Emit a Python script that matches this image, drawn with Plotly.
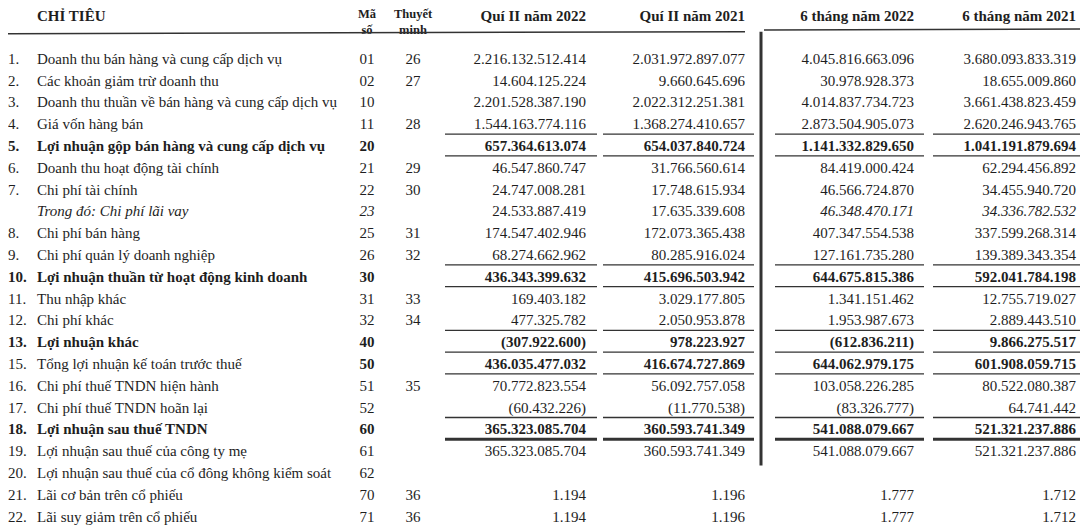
import plotly.graph_objects as go

# ---- du lieu bang ket qua kinh doanh ----
row_no = ["1.", "2.", "3.", "4.", "5.", "6.", "7.", "", "8.", "9.", "10.", "11.",
          "12.", "13.", "15.", "16.", "17.", "18.", "19.", "20.", "21.", "22."]
labels = [
    "Doanh thu bán hàng và cung cấp dịch vụ",
    "Các khoản giảm trừ doanh thu",
    "Doanh thu thuần về bán hàng và cung cấp dịch vụ",
    "Giá vốn hàng bán",
    "Lợi nhuận gộp bán hàng và cung cấp dịch vụ",
    "Doanh thu hoạt động tài chính",
    "Chi phí tài chính",
    "Trong đó: Chi phí lãi vay",
    "Chi phí bán hàng",
    "Chi phí quản lý doanh nghiệp",
    "Lợi nhuận thuần từ hoạt động kinh doanh",
    "Thu nhập khác",
    "Chi phí khác",
    "Lợi nhuận khác",
    "Tổng lợi nhuận kế toán trước thuế",
    "Chi phí thuế TNDN hiện hành",
    "Chi phí thuế TNDN hoãn lại",
    "Lợi nhuận sau thuế TNDN",
    "Lợi nhuận sau thuế của công ty mẹ",
    "Lợi nhuận sau thuế của cổ đông không kiểm soát",
    "Lãi cơ bản trên cổ phiếu",
    "Lãi suy giảm trên cổ phiếu",
]
ma_so = ["01", "02", "10", "11", "20", "21", "22", "23", "25", "26", "30", "31",
         "32", "40", "50", "51", "52", "60", "61", "62", "70", "71"]
thuyet_minh = ["26", "27", "", "28", "", "29", "30", "", "31", "32", "", "33",
               "34", "", "", "35", "", "", "", "", "36", "36"]

q2_2022 = [2216132512414, 14604125224, 2201528387190, 1544163774116, 657364613074,
           46547860747, 24747008281, 24533887419, 174547402946, 68274662962,
           436343399632, 169403182, 477325782, -307922600, 436035477032,
           70772823554, -60432226, 365323085704, 365323085704, None, 1194, 1194]
q2_2021 = [2031972897077, 9660645696, 2022312251381, 1368274410657, 654037840724,
           31766560614, 17748615934, 17635339608, 172073365438, 80285916024,
           415696503942, 3029177805, 2050953878, 978223927, 416674727869,
           56092757058, -11770538, 360593741349, 360593741349, None, 1196, 1196]
h1_2022 = [4045816663096, 30978928373, 4014837734723, 2873504905073, 1141332829650,
           84419000424, 46566724870, 46348470171, 407347554538, 127161735280,
           644675815386, 1341151462, 1953987673, -612836211, 644062979175,
           103058226285, -83326777, 541088079667, 541088079667, None, 1777, 1777]
h1_2021 = [3680093833319, 18655009860, 3661438823459, 2620246943765, 1041191879694,
           62294456892, 34455940720, 34336782532, 337599268314, 139389343354,
           592041784198, 12755719027, 2889443510, 9866275517, 601908059715,
           80522080387, 64741442, 521321237886, 521321237886, None, 1712, 1712]

col_heads = ["Quí II năm 2022", "Quí II năm 2021", "6 tháng năm 2022", "6 tháng năm 2021"]

# ---- kieu dang ----
bold_label = {"20", "30", "40", "60"}
bold_value = {"20", "30", "40", "50", "60"}
italic_code = {"23"}
line_under = {"11", "20", "26", "30", "32", "40", "50", "52"}
thick_under = {"60"}

FONT = "Liberation Serif"
INK = "#1e1e1e"
SIZE = 15
col_right = [586, 745, 914, 1076]
col_line = [(445, 597), (603, 754), (775, 924), (933, 1086)]


def fmt(v):
    if v is None:
        return ""
    s = f"{abs(v):,}".replace(",", ".")
    return f"({s})" if v < 0 else s


def wrap(s, b=False, i=False):
    if not s:
        return s
    if b:
        s = f"<b>{s}</b>"
    if i:
        s = f"<i>{s}</i>"
    return s


rows = list(range(len(labels)))

fig = go.Figure()


def add_text(x, y, txt, pos, size=SIZE):
    fig.add_trace(go.Scatter(x=x, y=y, text=txt, mode="text", textposition=pos,
                             textfont=dict(family=FONT, size=size, color=INK),
                             cliponaxis=False, hoverinfo="skip", showlegend=False))


add_text([8] * len(rows), rows,
         [wrap(n, b=c in bold_label) for n, c in zip(row_no, ma_so)], "middle right")
add_text([37] * len(rows), rows,
         [wrap(l, b=c in bold_label, i=c in italic_code) for l, c in zip(labels, ma_so)],
         "middle right")
add_text([367] * len(rows), rows,
         [wrap(c, b=c in bold_value, i=c in italic_code) for c in ma_so], "middle center")
add_text([413] * len(rows), rows, thuyet_minh, "middle center")

for k, series in enumerate([q2_2022, q2_2021, h1_2022, h1_2021]):
    txt = [wrap(fmt(v), b=c in bold_value, i=(c in italic_code and k >= 2))
           for v, c in zip(series, ma_so)]
    add_text([col_right[k]] * len(rows), rows, txt, "middle left")

# tieu de cot
add_text([37], [-1.97], ["<b>CHỈ TIÊU</b>"], "middle right")
add_text([367, 413], [-1.71, -1.71],
         ["<b>Mã<br>số</b>", "<b>Thuyết<br>minh</b>"], "middle center", 12.5)
add_text(col_right, [-1.97] * 4, [f"<b>{h}</b>" for h in col_heads], "middle left")

# duong ke
shapes = [
    dict(type="line", xref="x", yref="y", x0=0, x1=745, y0=-1.2, y1=-1.3,
         line=dict(color="#333", width=1.5)),
    dict(type="line", xref="x", yref="y", x0=764, x1=1088, y0=-1.38, y1=-1.42,
         line=dict(color="#333", width=1.5)),
    dict(type="line", xref="x", yref="y", x0=761, x1=761, y0=-1.3, y1=18.6,
         line=dict(color="#333", width=3)),
]
for r, c in zip(rows, ma_so):
    if c in line_under or c in thick_under:
        w = 3 if c in thick_under else 1.3
        for x0, x1 in col_line:
            shapes.append(dict(type="line", xref="x", yref="y", x0=x0, x1=x1,
                               y0=r + 0.4, y1=r + 0.4, line=dict(color="#333", width=w)))

# trang html co le 8px, nen hinh nho hon cua so 8px
fig.update_layout(
    width=1080, height=522,
    margin=dict(l=0, r=0, t=0, b=0),
    paper_bgcolor="white", plot_bgcolor="white",
    xaxis=dict(range=[8, 1088], visible=False, fixedrange=True),
    yaxis=dict(range=[21.56, -2.385], visible=False, fixedrange=True),
    shapes=shapes,
    showlegend=False,
)

fig.write_html("out.html")
